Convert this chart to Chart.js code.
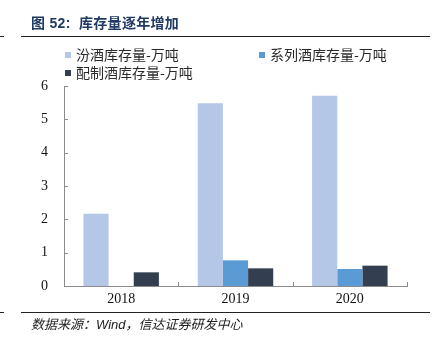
<!DOCTYPE html>
<html>
<head>
<meta charset="utf-8">
<script src="https://cdn.jsdelivr.net/npm/chart.js@4"></script>
<style>
  html, body { margin: 0; padding: 0; background: #fff; }
  #wrap { position: relative; width: 438px; height: 341px; overflow: hidden; }
  #chart { position: absolute; left: 0; top: 0; }
  .title { position: absolute; left: 31px; top: 12px; font: bold 14px "Liberation Sans", "Noto Sans CJK SC", sans-serif; color: #1f3864; white-space: nowrap; letter-spacing: 0.3px; }
  .rule { position: absolute; height: 0; border-top: 1.5px solid #222; }
  .legend-item { position: absolute; font: 14px "Noto Sans CJK SC", sans-serif; color: #2a2a2a; white-space: nowrap; line-height: 18px; }
  .legend-item i { display: inline-block; width: 6px; height: 6px; margin-right: 5px; vertical-align: 2px; }
  .source { position: absolute; left: 31px; top: 314px; font: italic 13px "Liberation Sans", "Noto Sans CJK SC", sans-serif; color: #222; white-space: nowrap; }
</style>
</head>
<body>
<div id="wrap">
  <canvas id="chart" width="438" height="341"></canvas>
  <div class="title">图 52:&nbsp; 库存量逐年增加</div>
  <div class="rule" style="left:21px; top:36px; width:409px;"></div>
  <div class="rule" style="left:0; top:36px; width:4px;"></div>
  <div class="rule" style="left:21px; top:312px; width:409px;"></div>
  <div class="rule" style="left:0; top:312px; width:4px;"></div>
  <div id="legend"></div>
  <div class="source">数据来源：Wind，信达证券研发中心</div>
</div>
<script>
// Years on the category axis
const years = ['2018', '2019', '2020'];
// Inventory (10k tonnes) per liquor type
const fenjiu = [2.17, 5.48, 5.71];
const xilie = [null, 0.77, 0.51];
const peizhi = [0.41, 0.53, 0.61];
// Series names
const seriesNames = ['汾酒库存量-万吨', '系列酒库存量-万吨', '配制酒库存量-万吨'];
// Y axis tick values
const yTicks = [0, 1, 2, 3, 4, 5, 6];

const colors = ['#b4c7e7', '#5b9bd5', '#333f50'];
const axisColor = '#8c8c8c';

// HTML legend laid out in two rows
const legendPos = [[65, 45], [259, 45], [65, 63]];
const legendEl = document.getElementById('legend');
seriesNames.forEach((name, i) => {
  const d = document.createElement('div');
  d.className = 'legend-item';
  d.style.left = legendPos[i][0] + 'px';
  d.style.top = legendPos[i][1] + 'px';
  d.innerHTML = '<i style="background:' + colors[i] + '"></i>' + name;
  legendEl.appendChild(d);
});

// Short tick marks pointing into the plot area
const inwardTicks = {
  id: 'inwardTicks',
  afterDatasetsDraw(chart) {
    const { ctx, chartArea, scales } = chart;
    ctx.save();
    ctx.strokeStyle = axisColor;
    ctx.lineWidth = 1;
    ctx.beginPath();
    yTicks.forEach(v => {
      const y = Math.round(scales.y.getPixelForValue(v)) + 0.5;
      ctx.moveTo(chartArea.left, y);
      ctx.lineTo(chartArea.left + 4, y);
    });
    const n = years.length;
    for (let i = 0; i <= n; i++) {
      const x = Math.round(scales.x.getPixelForValue(i - 0.5)) + 0.5;
      ctx.moveTo(x, chartArea.bottom);
      ctx.lineTo(x, chartArea.bottom - 4);
    }
    ctx.stroke();
    ctx.restore();
  }
};

new Chart(document.getElementById('chart'), {
  type: 'bar',
  data: {
    labels: years,
    datasets: [
      { label: seriesNames[0], data: fenjiu, backgroundColor: colors[0] },
      { label: seriesNames[1], data: xilie, backgroundColor: colors[1] },
      { label: seriesNames[2], data: peizhi, backgroundColor: colors[2] }
    ]
  },
  options: {
    responsive: false,
    animation: false,
    devicePixelRatio: 1,
    layout: { padding: { left: 0, right: 31, top: 86, bottom: 35 } },
    datasets: { bar: { categoryPercentage: 0.66, barPercentage: 1, borderWidth: 0 } },
    plugins: { legend: { display: false }, title: { display: false }, tooltip: { enabled: false } },
    scales: {
      x: {
        grid: { display: false, drawTicks: false },
        border: { display: true, color: axisColor, width: 1 },
        ticks: { color: '#111', padding: 5, font: { family: '"Liberation Serif", serif', size: 14 } },
        afterFit(s) { s.height = 20; }
      },
      y: {
        min: 0, max: 6,
        afterBuildTicks(s) { s.ticks = yTicks.map(v => ({ value: v })); },
        grid: { display: false, drawTicks: false },
        border: { display: true, color: axisColor, width: 1 },
        ticks: { color: '#111', padding: 16, font: { family: '"Liberation Serif", serif', size: 14 } },
        afterFit(s) { s.width = 64; }
      }
    }
  },
  plugins: [inwardTicks]
});
</script>
</body>
</html>
